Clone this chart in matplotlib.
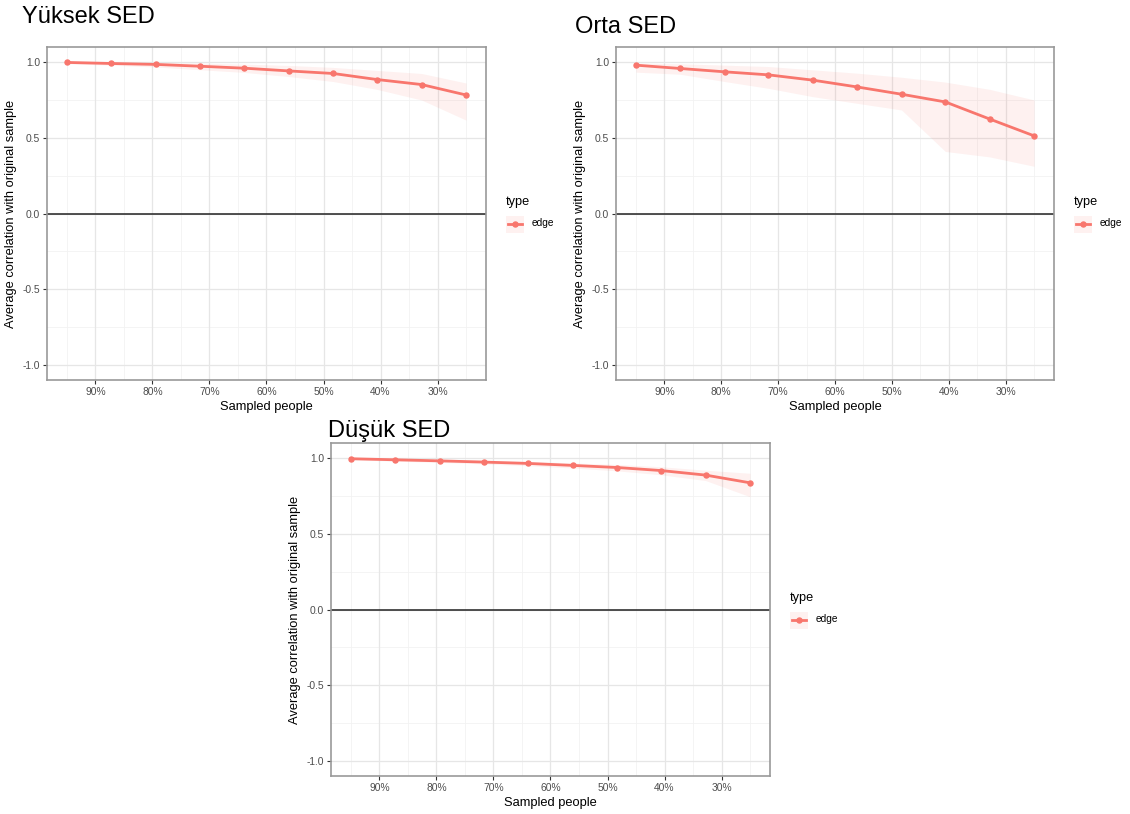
import matplotlib
matplotlib.use("Agg")
import matplotlib.pyplot as plt
from matplotlib.patches import Rectangle
from matplotlib.lines import Line2D

plt.rcParams['font.family'] = ['Liberation Sans', 'DejaVu Sans']

# ---------------- data ----------------
sampled = [95, 87.2, 79.4, 71.7, 63.9, 56.1, 48.3, 40.6, 32.8, 25]
x_ticks = [90, 80, 70, 60, 50, 40, 30]
x_tick_labels = ["90%", "80%", "70%", "60%", "50%", "40%", "30%"]
y_ticks = [-1.0, -0.5, 0.0, 0.5, 1.0]
y_tick_labels = ["-1.0", "-0.5", "0.0", "0.5", "1.0"]

titles = ["Yüksek SED", "Orta SED", "Düşük SED"]

yuksek_mean = [0.998, 0.991, 0.985, 0.973, 0.960, 0.942, 0.925, 0.885, 0.852, 0.783]
yuksek_upper = [1.000, 0.999, 0.997, 0.993, 0.987, 0.978, 0.965, 0.945, 0.925, 0.862]
yuksek_lower = [0.990, 0.980, 0.968, 0.950, 0.932, 0.905, 0.872, 0.820, 0.750, 0.617]

orta_mean = [0.980, 0.958, 0.936, 0.916, 0.881, 0.836, 0.788, 0.737, 0.624, 0.513]
orta_upper = [0.993, 0.989, 0.980, 0.971, 0.949, 0.927, 0.900, 0.868, 0.820, 0.750]
orta_lower = [0.934, 0.920, 0.872, 0.827, 0.772, 0.728, 0.684, 0.410, 0.374, 0.312]

dusuk_mean = [0.996, 0.989, 0.982, 0.974, 0.965, 0.952, 0.938, 0.918, 0.888, 0.837]
dusuk_upper = [1.000, 0.996, 0.990, 0.985, 0.978, 0.968, 0.958, 0.943, 0.920, 0.900]
dusuk_lower = [0.990, 0.980, 0.972, 0.962, 0.950, 0.935, 0.916, 0.890, 0.852, 0.745]

series_type = "edge"
legend_title = "type"
x_label = "Sampled people"
y_label = "Average correlation with original sample"

# ---------------- style ----------------
W, H = 1130, 814
RED = "#F8766D"
fig = plt.figure(figsize=(W / 100, H / 100), dpi=100)


def fx(x):
    return x / W


def fy(y):
    return 1 - y / H


# axes boxes in pixel coords: left, top, right, bottom
boxes = [(47, 47, 486, 380), (616, 47, 1054, 380), (331, 443, 770, 776)]
title_pos = [(22, 23), (575, 33), (328, 437)]
data = [(yuksek_mean, yuksek_lower, yuksek_upper),
        (orta_mean, orta_lower, orta_upper),
        (dusuk_mean, dusuk_lower, dusuk_upper)]

for (l, t, r, b), (tx, ty), title, (m, lo, up) in zip(boxes, title_pos, titles, data):
    ax = fig.add_axes([fx(l), fy(b), fx(r) - fx(l), fy(t) - fy(b)])
    ax.set_xlim(98.5, 21.5)
    ax.set_ylim(-1.1, 1.1)
    # grid
    for v in [95, 85, 75, 65, 55, 45, 35, 25]:
        ax.axvline(v, color="#F2F2F2", lw=0.6, zorder=0)
    for v in [-0.75, -0.25, 0.25, 0.75]:
        ax.axhline(v, color="#F2F2F2", lw=0.6, zorder=0)
    for v in x_ticks:
        ax.axvline(v, color="#E6E6E6", lw=0.9, zorder=0)
    for v in y_ticks:
        ax.axhline(v, color="#E6E6E6", lw=0.9, zorder=0)
    ax.axhline(0, color="#222222", lw=1.1, zorder=1)

    ax.fill_between(sampled, lo, up, color=RED, alpha=0.1, lw=0, zorder=2)
    ax.plot(sampled, m, color=RED, lw=2.0, marker="o", ms=3.6, zorder=3)

    ax.set_xticks(x_ticks)
    ax.set_xticklabels(x_tick_labels)
    ax.set_yticks(y_ticks)
    ax.set_yticklabels(y_tick_labels)
    ax.tick_params(axis="both", labelsize=7.4, labelcolor="#4D4D4D", color="#333333",
                   length=3, width=0.8, pad=2)
    for s in ax.spines.values():
        s.set_color("#999999")
        s.set_linewidth(1.2)

    ax.set_xlabel(x_label, fontsize=9.3, labelpad=3)
    ax.set_ylabel(y_label, fontsize=9.3, labelpad=4)

    fig.text(fx(tx), fy(ty), title, fontsize=17, ha="left", va="baseline", color="black")

    # legend
    cy = (t + b) / 2
    lx = r + 20
    fig.text(fx(lx), fy(cy - 12), legend_title, fontsize=9.2, ha="left", va="center")
    fig.patches.append(Rectangle((fx(lx), fy(cy + 19)), fx(18), fy(0) - fy(17),
                                 transform=fig.transFigure, facecolor=RED, alpha=0.1,
                                 edgecolor="none"))
    fig.lines.append(Line2D([fx(lx + 2), fx(lx + 16)], [fy(cy + 10), fy(cy + 10)],
                            transform=fig.transFigure, color=RED, lw=2.0))
    fig.lines.append(Line2D([fx(lx + 9)], [fy(cy + 10)], transform=fig.transFigure,
                            color=RED, marker="o", ms=3.6, lw=0))
    fig.text(fx(lx + 26), fy(cy + 10), series_type, fontsize=7.3, ha="left", va="center")

fig.savefig("out.png", dpi=100)
